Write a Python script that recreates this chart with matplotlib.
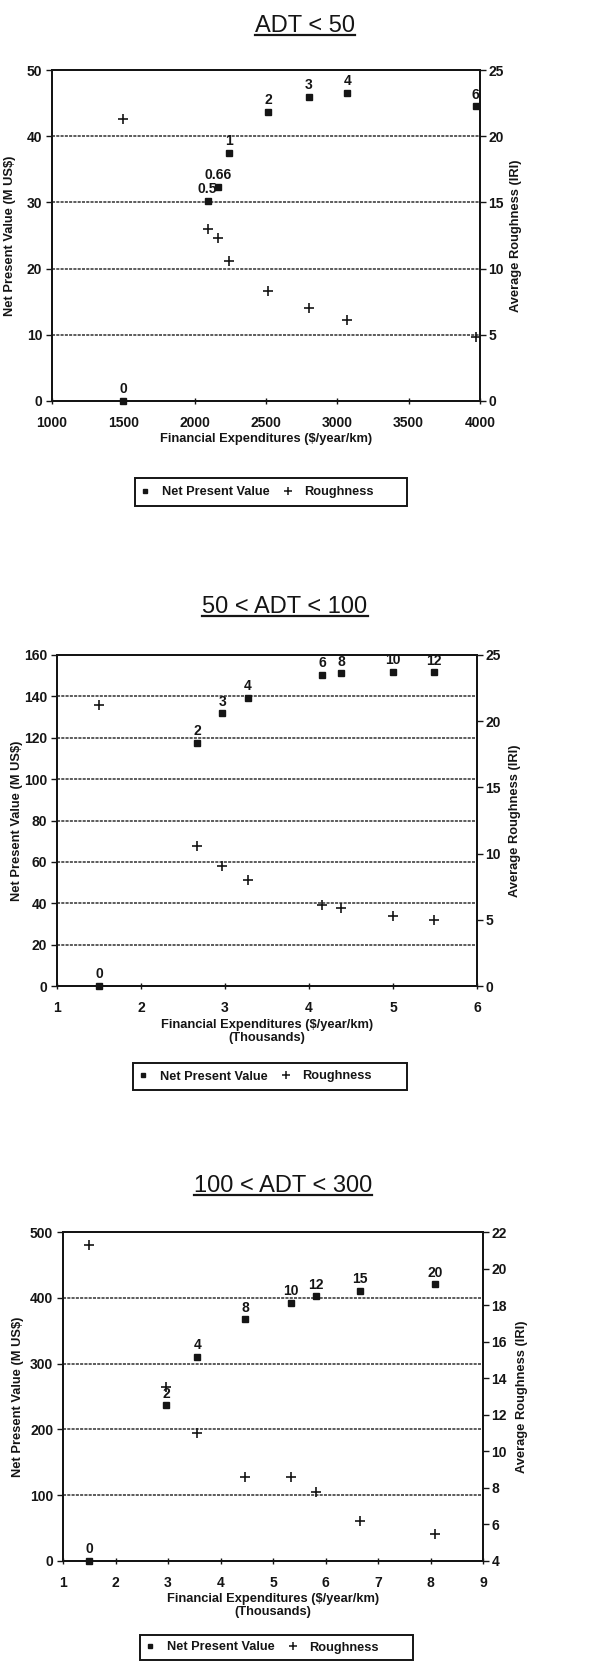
import matplotlib

matplotlib.use("Agg")
import matplotlib.pyplot as plt
import numpy as np
from matplotlib.lines import Line2D
from matplotlib.patches import Rectangle
from matplotlib.ticker import FuncFormatter

LARGURA, ALTURA = 591, 1661
COR = "#151515"

# ADT < 50 (x em $/ano/km)
x_adt50 = [1500, 2090, 2165, 2240, 2515, 2800, 3070, 3970]
vpl_adt50 = [0, 30.2, 32.3, 37.5, 43.7, 45.9, 46.5, 44.5]
rug_adt50 = [21.3, 13.0, 12.3, 10.6, 8.3, 7.0, 6.1, 4.8]
rot_adt50 = ["0", "0.5", "0.66", "1", "2", "3", "4", "6"]

# 50 < ADT < 100 (x em milhares)
x_adt100 = [1.5, 2.67, 2.97, 3.27, 4.16, 4.38, 5.0, 5.49]
vpl_adt100 = [0, 117.5, 131.8, 139.4, 150.3, 151.1, 152.0, 151.6]
rug_adt100 = [21.2, 10.6, 9.1, 8.0, 6.15, 5.9, 5.3, 5.0]
rot_adt100 = ["0", "2", "3", "4", "6", "8", "10", "12"]

# 100 < ADT < 300 (x em milhares)
x_adt300 = [1.5, 2.97, 3.56, 4.47, 5.35, 5.82, 6.65, 8.08]
vpl_adt300 = [0, 236.6, 310, 367.3, 392.6, 402.2, 410.8, 420.5]
rug_adt300 = [21.3, 13.5, 11.0, 8.6, 8.6, 7.8, 6.2, 5.5]
rot_adt300 = ["0", "2", "4", "8", "10", "12", "15", "20"]

ROTULO_X = "Financial Expenditures ($/year/km)"
ROTULO_Y = "Net Present Value (M US$)"
ROTULO_Y2 = "Average Roughness (IRI)"
LEGENDA = ["Net Present Value", "Roughness"]

PAINEIS = [
    dict(titulo="ADT < 50", x=x_adt50, vpl=vpl_adt50, rug=rug_adt50, rotulos=rot_adt50,
         xlim=(1000, 4000, 500), ylim=(0, 50, 10), y2lim=(0, 25, 5),
         caixa=(52, 70, 480, 401), titulo_xy=(305, 32), xlabels=[(ROTULO_X, 439)],
         legenda=(135, 478, 407, 506), ylabel_x=(10, 516)),
    dict(titulo="50 < ADT < 100", x=x_adt100, vpl=vpl_adt100, rug=rug_adt100, rotulos=rot_adt100,
         xlim=(1, 6, 1), ylim=(0, 160, 20), y2lim=(0, 25, 5),
         caixa=(57, 655, 477, 986), titulo_xy=(285, 613),
         xlabels=[(ROTULO_X, 1025), ("(Thousands)", 1038)],
         legenda=(133, 1063, 407, 1090), ylabel_x=(17, 515)),
    dict(titulo="100 < ADT < 300", x=x_adt300, vpl=vpl_adt300, rug=rug_adt300, rotulos=rot_adt300,
         xlim=(1, 9, 1), ylim=(0, 500, 100), y2lim=(4, 22, 2),
         caixa=(63, 1232, 483, 1561), titulo_xy=(283, 1192),
         xlabels=[(ROTULO_X, 1599), ("(Thousands)", 1612)],
         legenda=(140, 1635, 413, 1660), ylabel_x=(18, 522)),
]

plt.rcParams["font.family"] = ["Liberation Sans", "DejaVu Sans"]
plt.rcParams["font.weight"] = "bold"
plt.rcParams["text.color"] = COR

T_TICK = 10
T_ROT = 10
T_EIXO = 9.3
T_LEG = 9.2


def fx(px: float) -> float:
    return px / LARGURA


def fy(py: float) -> float:
    return 1 - py / ALTURA


def formatar(v, _):
    return f"{v:g}"


def desenhar_painel(fig, p: dict):
    esq, topo, dir_, base = p["caixa"]
    ax = fig.add_axes([fx(esq), fy(base), (dir_ - esq) / LARGURA, (base - topo) / ALTURA])
    ax2 = ax.twinx()

    x0, x1, xp = p["xlim"]
    y0, y1, yp = p["ylim"]
    z0, z1, zp = p["y2lim"]
    ax.set_xlim(x0, x1)
    ax.set_ylim(y0, y1)
    ax2.set_ylim(z0, z1)
    ax.set_xticks(np.arange(x0, x1 + xp / 2, xp))
    ax.set_yticks(np.arange(y0, y1 + yp / 2, yp))
    ax2.set_yticks(np.arange(z0, z1 + zp / 2, zp))
    for eixo in (ax.xaxis, ax.yaxis, ax2.yaxis):
        eixo.set_major_formatter(FuncFormatter(formatar))

    ax.grid(axis="y", color="#303030", lw=1.1, ls=(0, (2, 0.8)))
    ax.set_axisbelow(True)
    for a in (ax, ax2):
        for s in a.spines.values():
            s.set_color(COR)
            s.set_linewidth(1.4)
    ax.tick_params(axis="x", direction="inout", length=5, width=1, pad=8, labelsize=T_TICK, colors=COR)
    ax.tick_params(axis="y", direction="out", length=4, width=1, pad=3, labelsize=T_TICK, colors=COR)
    ax2.tick_params(axis="y", direction="out", length=4, width=1, pad=2, labelsize=T_TICK, colors=COR)

    ax.plot(p["x"], p["vpl"], ls="none", marker="s", ms=4.5, color=COR, clip_on=False, zorder=4)
    ax2.plot(p["x"], p["rug"], ls="none", marker="+", ms=7, mew=1.2, color=COR, clip_on=False, zorder=4)
    for xv, yv, r in zip(p["x"], p["vpl"], p["rotulos"]):
        ax.annotate(r, (xv, yv), xytext=(0, 8.5), textcoords="offset points",
                    ha="center", va="center", fontsize=T_ROT, color=COR, zorder=5)

    # rótulos dos eixos
    yl, yr = p["ylabel_x"]
    meio = (topo + base) / 2
    fig.text(fx(yl), fy(meio), ROTULO_Y, rotation=90, ha="center", va="center", fontsize=T_EIXO)
    fig.text(fx(yr), fy(meio), ROTULO_Y2, rotation=90, ha="center", va="center", fontsize=T_EIXO)
    for texto, ypx in p["xlabels"]:
        fig.text(fx((esq + dir_) / 2), fy(ypx), texto, ha="center", va="center", fontsize=T_EIXO)

    # legenda com caixa própria
    lx0, ly0, lx1, ly1 = p["legenda"]
    fig.add_artist(Rectangle((fx(lx0), fy(ly1)), (lx1 - lx0) / LARGURA, (ly1 - ly0) / ALTURA,
                             transform=fig.transFigure, fill=False, ec=COR, lw=1.4))
    alcas = [
        Line2D([], [], ls="none", marker="s", ms=3.5, color=COR),
        Line2D([], [], ls="none", marker="+", ms=6, mew=1.1, color=COR),
    ]
    fig.legend(alcas, LEGENDA, loc="center left", bbox_to_anchor=(fx(lx0 + 4), fy((ly0 + ly1) / 2)),
               ncol=2, frameon=False, handlelength=1.0, handletextpad=0.8, columnspacing=0.9,
               borderpad=0, borderaxespad=0, prop={"size": T_LEG, "weight": "bold"})

    tx, ty = p["titulo_xy"]
    return fig.text(fx(tx), fy(ty), p["titulo"], ha="center", va="baseline",
                    fontsize=17, fontweight="normal")


def main() -> None:
    fig = plt.figure(figsize=(LARGURA / 100, ALTURA / 100), dpi=100)
    fig.patch.set_facecolor("white")

    titulos = [desenhar_painel(fig, p) for p in PAINEIS]

    # sublinhado dos títulos
    fig.canvas.draw()
    for t, p in zip(titulos, PAINEIS):
        bb = t.get_window_extent()
        ylin = p["titulo_xy"][1] + 3
        fig.add_artist(Line2D([bb.x0 / LARGURA, bb.x1 / LARGURA], [fy(ylin)] * 2,
                              transform=fig.transFigure, color=COR, lw=1.6))

    fig.savefig("out.png", dpi=100)
    plt.close(fig)


if __name__ == "__main__":
    main()
